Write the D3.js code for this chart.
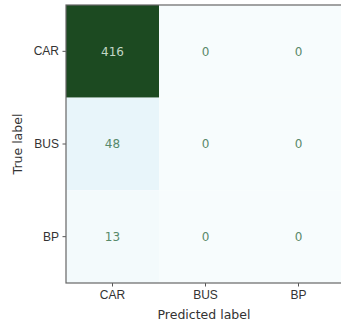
<!DOCTYPE html>
<html>
<head>
<meta charset="utf-8">
<script src="https://cdn.jsdelivr.net/npm/d3@7"></script>
<style>
  html, body { margin: 0; padding: 0; background: #fff; }
  svg { display: block; font-family: "DejaVu Sans", sans-serif; }
</style>
</head>
<body>
<div id="chart"></div>
<script>
// confusion matrix values
const labels = ["CAR", "BUS", "BP"];
const matrix = [
  [416, 0, 0],
  [48, 0, 0],
  [13, 0, 0]
];
const xTitle = "Predicted label";
const yTitle = "True label";

const W = 341, H = 329;
const margin = { top: 5, left: 66 };
const width = 279, height = 278;

const svg = d3.select("#chart").append("svg")
  .attr("width", W).attr("height", H);

const g = svg.append("g")
  .attr("transform", "translate(" + margin.left + "," + margin.top + ")");

const xScale = d3.scaleBand(labels, [0, width]);
const yScale = d3.scaleBand(labels, [0, height]);
const maxV = d3.max(matrix.flat());
// BuGn-like ramp (matplotlib stops), dark end muted like the reference
const stops = ["#f7fcfd", "#e7f4fa", "#ccece6", "#99d8c9", "#66c2a4", "#41ae76", "#238b45", "#0e5e2a", "#1c4a21"];
const color = d3.scaleLinear(d3.range(stops.length).map(i => i / (stops.length - 1) * maxV), stops);

const cells = [];
matrix.forEach((row, i) => row.forEach((v, j) => cells.push({ t: labels[i], p: labels[j], v })));

g.selectAll("rect.cell")
  .data(cells)
  .join("rect")
  .attr("class", "cell")
  .attr("x", d => xScale(d.p))
  .attr("y", d => yScale(d.t))
  .attr("width", xScale.bandwidth())
  .attr("height", yScale.bandwidth())
  .attr("fill", d => color(d.v));

// value labels
g.selectAll("text.val")
  .data(cells)
  .join("text")
  .attr("class", "val")
  .attr("x", d => xScale(d.p) + xScale.bandwidth() / 2)
  .attr("y", d => yScale(d.t) + yScale.bandwidth() / 2)
  .attr("text-anchor", "middle")
  .attr("dy", "0.36em")
  .style("font-size", "12px")
  .attr("fill", d => d.v > maxV / 2 ? "#c3d6c7" : "#57896a")
  .text(d => d.v);

// axes
const xAxis = d3.axisBottom(xScale).tickSizeOuter(0).tickSize(3.5).tickPadding(3.5);
const yAxis = d3.axisLeft(yScale).tickSizeOuter(0).tickSize(3.5).tickPadding(3.5);

g.append("g")
  .attr("transform", "translate(0," + height + ")")
  .call(xAxis)
  .call(a => a.select(".domain").remove())
  .selectAll("text")
  .style("font-size", "12px")
  .attr("fill", "#333");

g.append("g")
  .call(yAxis)
  .call(a => a.select(".domain").remove())
  .selectAll("text")
  .style("font-size", "12px")
  .attr("fill", "#333");

g.selectAll(".tick line").attr("stroke", "#555");

// frame
g.append("rect")
  .attr("x", 0).attr("y", 0)
  .attr("width", width).attr("height", height)
  .attr("fill", "none")
  .attr("stroke", "#666")
  .attr("stroke-width", 1.2);

// titles
svg.append("text")
  .attr("x", 204)
  .attr("y", 319)
  .attr("text-anchor", "middle")
  .style("font-size", "12.5px")
  .attr("fill", "#333")
  .text(xTitle);

svg.append("text")
  .attr("transform", "translate(22," + (margin.top + height / 2) + ") rotate(-90)")
  .attr("text-anchor", "middle")
  .style("font-size", "12.5px")
  .attr("fill", "#333")
  .text(yTitle);
</script>
</body>
</html>
